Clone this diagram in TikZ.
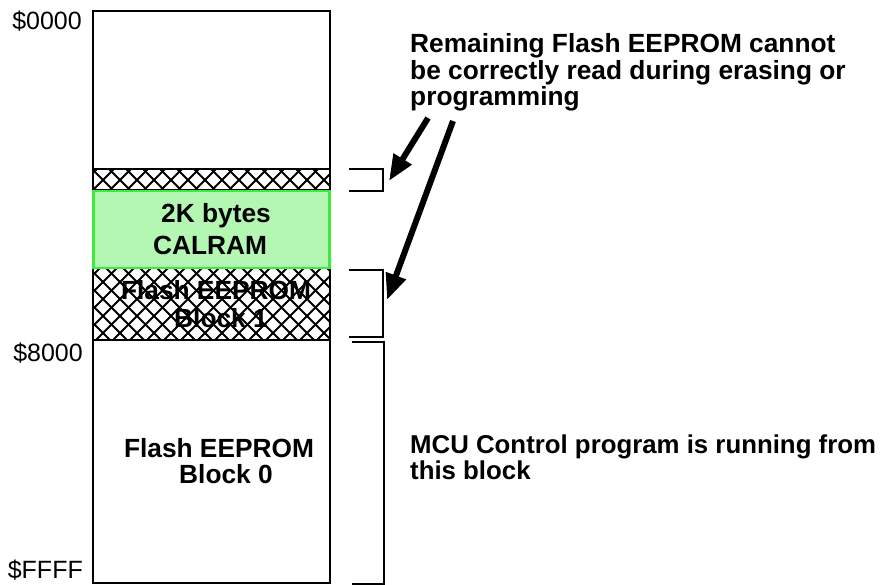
\documentclass[tikz,border=0pt]{standalone}
\usepackage{fontspec}
\setmainfont{Liberation Sans}
\usetikzlibrary{arrows.meta}
\definecolor{calfill}{HTML}{B3F7B3}
\definecolor{calline}{HTML}{3DEB3D}
\begin{document}
\begin{tikzpicture}[x=1pt,y=-1pt,
  blk/.style={draw, line width=1.5pt, inner sep=0pt, outer sep=0pt, anchor=north west, minimum width=237pt},
  hblk/.style={blk, line width=2.2pt},
  lbl/.style={font=\fontsize{26.3}{28}\selectfont\bfseries, inner sep=0pt, anchor=base},
  note/.style={font=\fontsize{26.3}{28}\selectfont\bfseries, inner sep=0pt, anchor=base west},
  addr/.style={font=\fontsize{25}{28}\selectfont, inner sep=0pt, anchor=base east},
  brk/.style={line width=2.5pt},
  hatch/.style={line width=1.8pt},
  bigarrow/.style={line width=6pt, -{Triangle[length=26pt,width=20pt]}}]
\useasboundingbox (0,0) rectangle (884,585);

% hatching
\begin{scope}
  \clip (93,169) rectangle (330,190) (93,268) rectangle (330,340);
  \foreach \i in {-12,...,26} {
    \draw[hatch] ({92+\i*17},169) -- ++(180,180);
    \draw[hatch] ({114+\i*17},169) -- ++(-180,180);
  }
\end{scope}

% blocks
\node[blk, minimum height=158pt] (top) at (93,11) {};
\node[hblk, minimum height=21pt] (h1) at (93,169) {};
\node[hblk, minimum height=72pt] (blk1) at (93,268) {};
\node[blk, minimum height=243pt] (blk0) at (93,340) {};
\node[draw=calline, fill=calfill, line width=2.5pt, inner sep=0pt, outer sep=0pt,
      anchor=north west, minimum width=236pt, minimum height=77pt] (cal) at (93.5,191) {};

% block texts
\node[lbl] (c1) at (216,223) {2K bytes};
\node[lbl] (c2) at (210,255) {CALRAM};
\node[lbl] (f1) at (216,300) {Flash EEPROM};
\node[lbl] (f2) at (221,328) {Block 1};
\node[lbl] (g1) at (219,457) {Flash EEPROM};
\node[lbl] (g2) at (226,483) {Block 0};

% addresses
\node[addr] (a0) at (82,30) {\$0000};
\node[addr] (a8) at (83,362) {\$8000};
\node[addr] (af) at (83,578) {\$FFFF};

% notes
\node[note] (n1) at (410,53) {Remaining Flash EEPROM cannot};
\node[note] (n2) at (410,80) {be correctly read during erasing or};
\node[note] (n3) at (410,106) {programming};
\node[note, font=\fontsize{25.8}{28}\selectfont\bfseries] (m1) at (410,453) {MCU Control program is running from};
\node[note, font=\fontsize{25.8}{28}\selectfont\bfseries] (m2) at (410,479) {this block};

% brackets
\coordinate (b1a) at (349,169); \coordinate (b1b) at (383,169);
\coordinate (b1c) at (383,191); \coordinate (b1d) at (349,191);
\draw[brk] (b1a) -- (b1b) -- (b1c) -- (b1d);
\coordinate (b2a) at (349,270); \coordinate (b2b) at (383,270);
\coordinate (b2c) at (383,337); \coordinate (b2d) at (349,337);
\draw[brk] (b2a) -- (b2b) -- (b2c) -- (b2d);
\coordinate (b3a) at (352,342); \coordinate (b3b) at (384,342);
\coordinate (b3c) at (384,584); \coordinate (b3d) at (352,584);
\draw[brk] (b3a) -- (b3b) -- (b3c) -- (b3d);

% arrows
\coordinate (s1) at (428,118); \coordinate (t1) at (389,181);
\coordinate (s2) at (453,121); \coordinate (t2) at (387,300);
\draw[bigarrow] (s1) -- (t1);
\draw[bigarrow] (s2) -- (t2);
\end{tikzpicture}
\end{document}
